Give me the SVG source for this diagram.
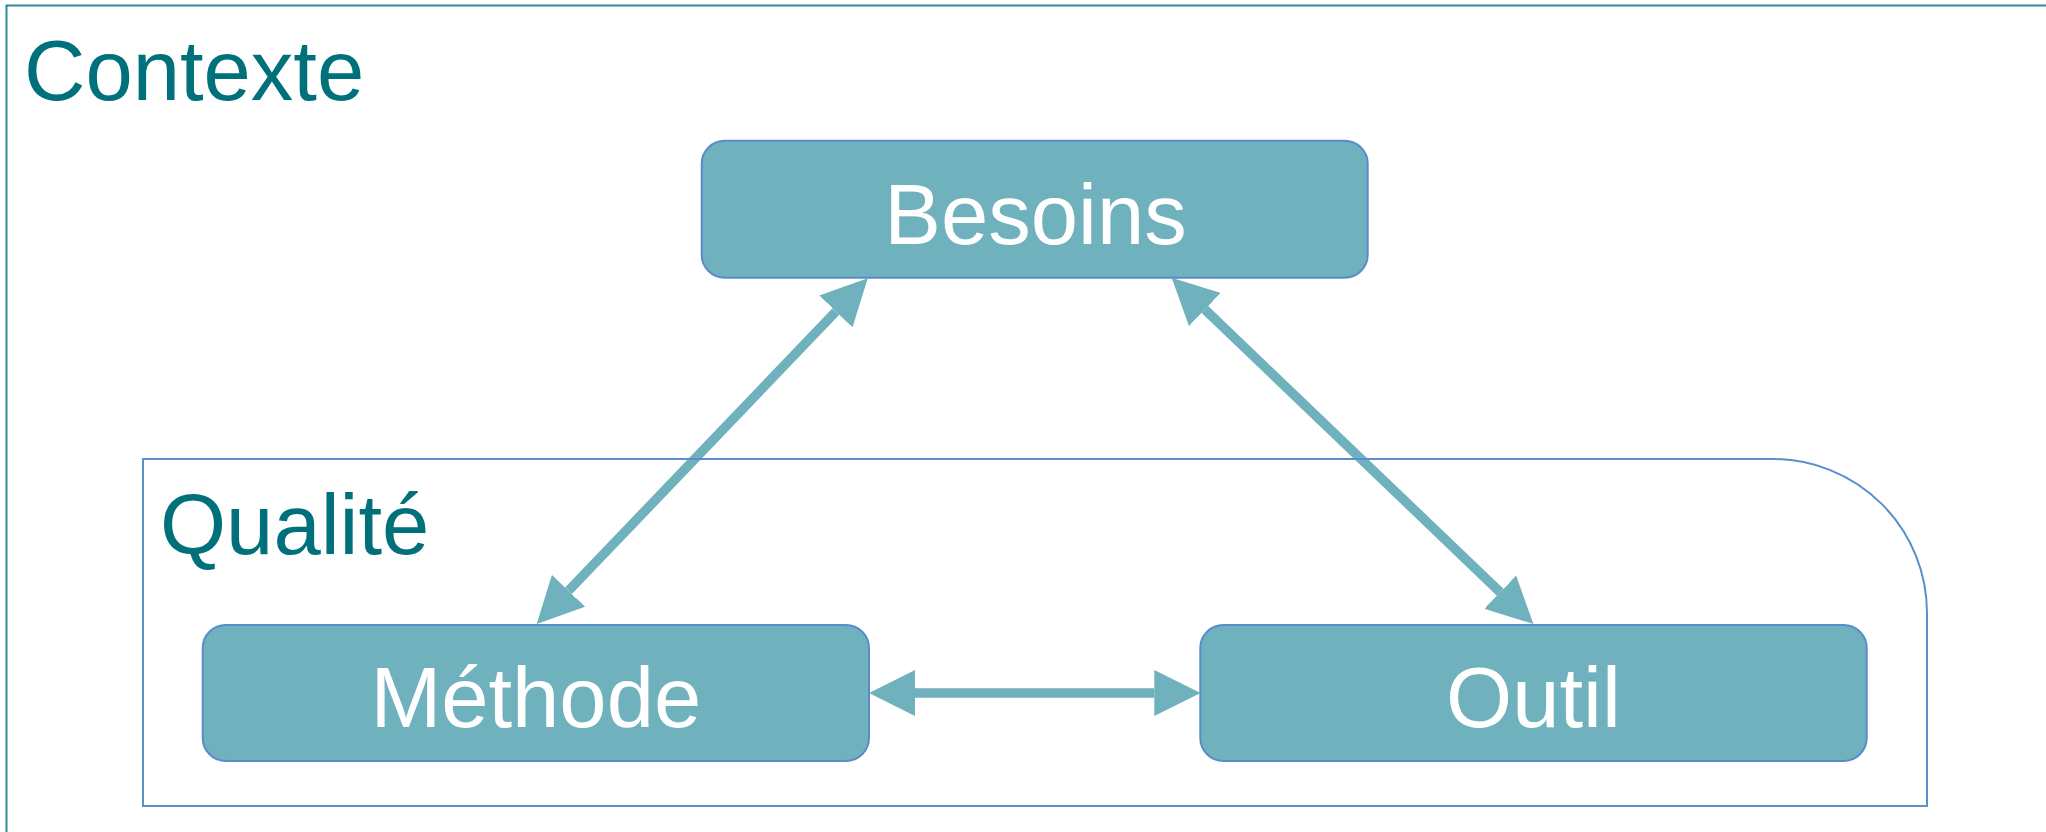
<svg xmlns="http://www.w3.org/2000/svg" width="2046" height="832" viewBox="0 0 2046 832">
  <style>
    .frame-outer { fill: none; stroke: #2B8C98; stroke-width: 2; }
    .frame-q { fill: none; stroke: #5A8FCB; stroke-width: 2; }
    .title { font-family: "Liberation Sans", Arial, sans-serif; font-size: 85px; fill: #00707B; }
    .box { fill: #6FB1BD; stroke: #5A8CCB; stroke-width: 2; }
    .label { font-family: "Liberation Sans", Arial, sans-serif; font-size: 85px; fill: #FFFFFF; text-anchor: middle; }
    .conn { stroke: #6FB1BD; stroke-width: 9.5; fill: none; marker-start: url(#head); marker-end: url(#head); }
  </style>
  <defs>
    <marker id="head" markerUnits="userSpaceOnUse" viewBox="0 -23 46 46" markerWidth="46" markerHeight="46" refX="0" refY="0" orient="auto-start-reverse">
      <path d="M0,-23 L46,0 L0,23 Z" fill="#6FB1BD"/>
    </marker>
  </defs>
  <rect width="2046" height="832" fill="#FFFFFF"/>

  <g id="contexte">
    <rect class="frame-outer" x="6.5" y="5.5" width="2100" height="900"/>
    <text class="title" x="24" y="100">Contexte</text>
  </g>

  <g id="connectors">
    <line class="conn" x1="835.9" y1="311.5" x2="568.5" y2="590.8"/>
    <line class="conn" x1="1204.9" y1="309.5" x2="1500.2" y2="592.2"/>
    <line class="conn" x1="915" y1="693" x2="1154.3" y2="693"/>
  </g>

  <g id="qualite">
    <path class="frame-q" d="M143,459 H1773 A154,154 0 0 1 1927,613 V806 H143 Z"/>
    <text class="title" x="160" y="554">Qualité</text>
  </g>

  <g id="besoins">
    <rect class="box" x="701.7" y="140.7" width="666" height="137" rx="23" ry="23"/>
    <text class="label" x="1035.5" y="244">Besoins</text>
  </g>

  <g id="methode">
    <rect class="box" x="202.7" y="625" width="666.3" height="136" rx="23" ry="23"/>
    <text class="label" x="535.8" y="727">Méthode</text>
  </g>

  <g id="outil">
    <rect class="box" x="1200.3" y="625" width="666.4" height="136" rx="23" ry="23"/>
    <text class="label" x="1533.5" y="727">Outil</text>
  </g>
</svg>
